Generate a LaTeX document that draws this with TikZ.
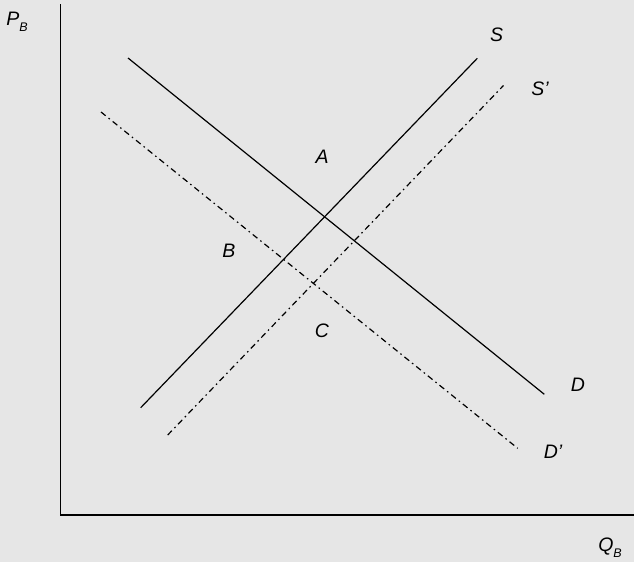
\documentclass[tikz,border=0pt]{standalone}
\usepackage{fontspec}
\setmainfont{Liberation Sans}
\definecolor{panel}{RGB}{230,230,230}

\begin{document}
\begin{tikzpicture}[x=1pt, y=-1pt, line width=1.2pt,
  shifted/.style={dash pattern=on 6pt off 3.75pt on 1.5pt off 3.75pt},
  lbl/.style={font=\fontsize{19.5}{22}\selectfont\itshape, inner sep=0pt}]
  \fill[panel] (0,0) rectangle (634,562);
  \useasboundingbox (0,0) rectangle (634,562);

  \coordinate (O) at (60.5,515);
  \coordinate (Ytop) at (60.5,4);
  \coordinate (Xend) at (634,515);
  \coordinate (S0) at (140.7,407.7);
  \coordinate (S1) at (477.3,58.3);
  \coordinate (Sp0) at (167.7,435);
  \coordinate (Sp1) at (503.5,85.5);
  \coordinate (D0) at (128,58);
  \coordinate (D1) at (544.3,394.3);
  \coordinate (Dp0) at (101,112);
  \coordinate (Dp1) at (517.7,448.3);

  % axes
  \draw (Ytop)--(O)--(Xend);

  % supply and demand
  \draw (S0)--(S1);
  \draw (D0)--(D1);
  \draw[shifted] (Sp0)--(Sp1);
  \draw[shifted] (Dp0)--(Dp1);

  \node[lbl] (pb) at (17,22) {P\raisebox{-0.3em}{\fontsize{12.5}{12}\selectfont B}};
  \node[lbl] (qb) at (610,548) {Q\raisebox{-0.3em}{\fontsize{12.5}{12}\selectfont B}};
  \node[lbl] (s) at (496.7,35) {S};
  \node[lbl] (sp) at (540,89) {S'};
  \node[lbl] (d) at (578,385) {D};
  \node[lbl] (dp) at (553,452) {D'};
  \node[lbl] (a) at (322,157) {A};
  \node[lbl] (b) at (229,251) {B};
  \node[lbl] (c) at (322,331) {C};
\end{tikzpicture}
\end{document}
